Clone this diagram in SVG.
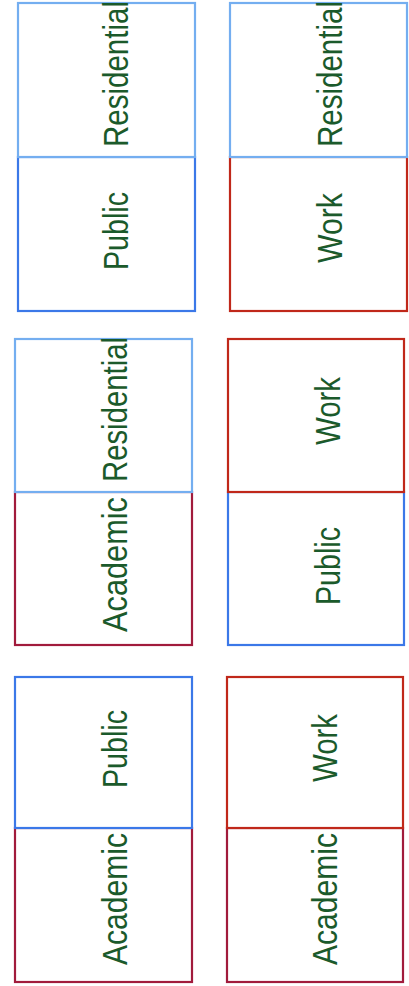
<svg xmlns="http://www.w3.org/2000/svg" width="409" height="986" viewBox="0 0 409 986">
<style>
rect{fill:#ffffff;stroke-width:2.2}
.res{stroke:#74aef0}
.pub{stroke:#3b78e8}
.wrk{stroke:#c0281a}
.aca{stroke:#a11b3c}
text{font-family:"Liberation Sans",Arial,sans-serif;font-size:30px;fill:#1b5a2b}
</style>
<rect x="0" y="0" width="409" height="986" style="fill:#ffffff;stroke:none"/>
<g id="connectors"/>
<!-- Panel 1 -->
<g id="p1-public"><rect class="pub" x="18" y="157" width="177" height="154"/>
<text transform="translate(128,270) rotate(-90) scale(1,1.15)" textLength="78" lengthAdjust="spacingAndGlyphs">Public</text></g>
<g id="p1-residential"><rect class="res" x="18" y="3" width="177" height="154"/>
<text transform="translate(128,147) rotate(-90) scale(1,1.15)" textLength="146" lengthAdjust="spacingAndGlyphs">Residential</text></g>
<!-- Panel 2 -->
<g id="p2-work"><rect class="wrk" x="230" y="157" width="177" height="154"/>
<text transform="translate(342,263) rotate(-90) scale(1,1.15)" textLength="70" lengthAdjust="spacingAndGlyphs">Work</text></g>
<g id="p2-residential"><rect class="res" x="230" y="3" width="177" height="154"/>
<text transform="translate(342,147) rotate(-90) scale(1,1.15)" textLength="146" lengthAdjust="spacingAndGlyphs">Residential</text></g>
<!-- Panel 3 -->
<g id="p3-academic"><rect class="aca" x="15" y="492" width="177" height="153"/>
<text transform="translate(127,632) rotate(-90) scale(1,1.15)" textLength="135" lengthAdjust="spacingAndGlyphs">Academic</text></g>
<g id="p3-residential"><rect class="res" x="15" y="339" width="177" height="153"/>
<text transform="translate(127,482) rotate(-90) scale(1,1.15)" textLength="145" lengthAdjust="spacingAndGlyphs">Residential</text></g>
<!-- Panel 4 -->
<g id="p4-public"><rect class="pub" x="228" y="492" width="176" height="153"/>
<text transform="translate(340,605) rotate(-90) scale(1,1.15)" textLength="78" lengthAdjust="spacingAndGlyphs">Public</text></g>
<g id="p4-work"><rect class="wrk" x="228" y="339" width="176" height="153"/>
<text transform="translate(340,445) rotate(-90) scale(1,1.15)" textLength="68" lengthAdjust="spacingAndGlyphs">Work</text></g>
<!-- Panel 5 -->
<g id="p5-academic"><rect class="aca" x="15" y="828" width="177" height="154"/>
<text transform="translate(127,965) rotate(-90) scale(1,1.15)" textLength="132" lengthAdjust="spacingAndGlyphs">Academic</text></g>
<g id="p5-public"><rect class="pub" x="15" y="677" width="177" height="151"/>
<text transform="translate(127,788) rotate(-90) scale(1,1.15)" textLength="78" lengthAdjust="spacingAndGlyphs">Public</text></g>
<!-- Panel 6 -->
<g id="p6-academic"><rect class="aca" x="227" y="828" width="176" height="154"/>
<text transform="translate(337,965) rotate(-90) scale(1,1.15)" textLength="132" lengthAdjust="spacingAndGlyphs">Academic</text></g>
<g id="p6-work"><rect class="wrk" x="227" y="677" width="176" height="151"/>
<text transform="translate(337,782) rotate(-90) scale(1,1.15)" textLength="68" lengthAdjust="spacingAndGlyphs">Work</text></g>
</svg>
